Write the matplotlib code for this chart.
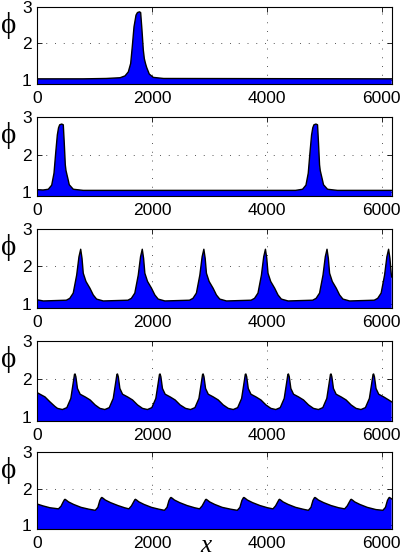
import matplotlib
matplotlib.use("Agg")
import matplotlib.pyplot as plt
import numpy as np

# ---------------- data ----------------
x_ticks = [0, 2000, 4000, 6000]
y_ticks = [1, 2, 3]
x_max = 6175

# panel 1: single spike
x1 = [0, 800, 1200, 1441, 1528, 1586, 1627, 1655, 1685, 1720, 1745, 1780, 1801,
      1824, 1847, 1865, 1885, 1906, 1951, 2021, 2200, 6175]
y1 = [1.03, 1.03, 1.04, 1.06, 1.11, 1.22, 1.45, 1.91, 2.45, 2.77, 2.84, 2.86, 2.84,
      2.36, 1.82, 1.58, 1.45, 1.34, 1.16, 1.07, 1.04, 1.03]

# panel 2: two spikes
x2 = [0, 100, 192, 251, 291, 320, 349, 370, 390, 425, 453, 470, 488, 500, 512, 535, 557,
      627, 800, 4500, 4622, 4681, 4721, 4750, 4779, 4800, 4820, 4855, 4883, 4900, 4918,
      4930, 4942, 4965, 4987, 5057, 5230, 6175]
y2 = [1.07, 1.06, 1.08, 1.19, 1.51, 2.04, 2.53, 2.72, 2.80, 2.82, 2.80, 2.31, 1.73, 1.58,
      1.50, 1.35, 1.20, 1.08, 1.05, 1.05, 1.08, 1.19, 1.51, 2.04, 2.53, 2.72, 2.80, 2.82,
      2.80, 2.31, 1.73, 1.58, 1.50, 1.35, 1.20, 1.08, 1.05, 1.05]

# panel 3: six peaks
x3 = [0, 106, 506, 566, 626, 686, 726, 756, 779, 801, 848, 917, 975, 1033, 1150,
      1579, 1639, 1699, 1759, 1799, 1829, 1852, 1874, 1921, 1990, 2048, 2106, 2223,
      2652, 2712, 2772, 2832, 2872, 2902, 2925, 2947, 2994, 3063, 3121, 3179, 3296,
      3725, 3785, 3845, 3905, 3945, 3975, 3998, 4020, 4067, 4136, 4194, 4252, 4369,
      4798, 4858, 4918, 4978, 5018, 5048, 5071, 5093, 5140, 5209, 5267, 5325, 5442,
      5871, 5931, 5991, 6051, 6091, 6121, 6144, 6166, 6175]
y3 = [1.11, 1.08, 1.10, 1.15, 1.29, 1.77, 2.26, 2.46, 2.22, 1.82, 1.60, 1.42, 1.24, 1.13, 1.08,
      1.10, 1.15, 1.29, 1.77, 2.26, 2.46, 2.22, 1.82, 1.60, 1.42, 1.24, 1.13, 1.08,
      1.10, 1.15, 1.29, 1.77, 2.26, 2.46, 2.22, 1.82, 1.60, 1.42, 1.24, 1.13, 1.08,
      1.10, 1.15, 1.29, 1.77, 2.26, 2.46, 2.22, 1.82, 1.60, 1.42, 1.24, 1.13, 1.08,
      1.10, 1.15, 1.29, 1.77, 2.26, 2.46, 2.22, 1.82, 1.60, 1.42, 1.24, 1.13, 1.08,
      1.10, 1.15, 1.29, 1.77, 2.26, 2.46, 2.22, 1.82, 1.72]

# panel 4: eight peaks
x4 = [0, 60, 134, 221, 308,
      352, 438, 515, 584, 620, 648, 658, 672, 700, 747, 834, 921, 1008,
      1091, 1177, 1254, 1323, 1359, 1387, 1397, 1411, 1439, 1486, 1573, 1660, 1747,
      1833, 1919, 1996, 2065, 2101, 2129, 2139, 2153, 2181, 2228, 2315, 2402, 2489,
      2584, 2670, 2747, 2816, 2852, 2880, 2890, 2904, 2932, 2979, 3066, 3153, 3240,
      3328, 3414, 3491, 3560, 3596, 3624, 3634, 3648, 3676, 3723, 3810, 3897, 3984,
      4070, 4156, 4233, 4302, 4338, 4366, 4376, 4390, 4418, 4465, 4552, 4639, 4726,
      4812, 4898, 4975, 5044, 5080, 5108, 5118, 5132, 5160, 5207, 5294, 5381, 5468,
      5554, 5640, 5717, 5786, 5822, 5850, 5860, 5874, 5902, 5949, 6036, 6123, 6175]
y4 = [1.64, 1.59, 1.53, 1.40, 1.28,
      1.23, 1.20, 1.25, 1.49, 1.84, 2.12, 2.13, 2.06, 1.75, 1.60, 1.53, 1.45, 1.32,
      1.23, 1.20, 1.25, 1.49, 1.84, 2.12, 2.13, 2.06, 1.75, 1.60, 1.53, 1.45, 1.32,
      1.23, 1.20, 1.25, 1.49, 1.84, 2.12, 2.13, 2.06, 1.75, 1.60, 1.53, 1.45, 1.32,
      1.23, 1.20, 1.25, 1.49, 1.84, 2.12, 2.13, 2.06, 1.75, 1.60, 1.53, 1.45, 1.32,
      1.23, 1.20, 1.25, 1.49, 1.84, 2.12, 2.13, 2.06, 1.75, 1.60, 1.53, 1.45, 1.32,
      1.23, 1.20, 1.25, 1.49, 1.84, 2.12, 2.13, 2.06, 1.75, 1.60, 1.53, 1.45, 1.32,
      1.23, 1.20, 1.25, 1.49, 1.84, 2.12, 2.13, 2.06, 1.75, 1.60, 1.53, 1.45, 1.32,
      1.23, 1.20, 1.25, 1.49, 1.84, 2.12, 2.13, 2.06, 1.75, 1.60, 1.53, 1.45, 1.40]

# panel 5: ten small peaks
x5 = [0, 100, 220, 368, 413, 448, 473, 483, 503, 543, 633, 763, 900, 1010,
      1055, 1090, 1115, 1125, 1145, 1185, 1275, 1405, 1520, 1595,
      1640, 1675, 1700, 1710, 1730, 1770, 1860, 1990, 2120, 2215,
      2260, 2295, 2320, 2330, 2350, 2390, 2480, 2610, 2740, 2827,
      2872, 2907, 2932, 2942, 2962, 3002, 3092, 3222, 3370, 3485,
      3530, 3565, 3590, 3600, 3620, 3660, 3750, 3880, 4010, 4106,
      4151, 4186, 4211, 4221, 4241, 4281, 4371, 4501, 4630, 4723,
      4768, 4803, 4828, 4838, 4858, 4898, 4988, 5118, 5250, 5355,
      5400, 5435, 5460, 5470, 5490, 5530, 5620, 5750, 5900, 6021,
      6066, 6101, 6126, 6136, 6156, 6175]
y5 = [1.58, 1.53, 1.48, 1.45, 1.52, 1.63, 1.70, 1.71, 1.69, 1.64, 1.57, 1.49, 1.44, 1.41,
      1.49, 1.68, 1.75, 1.76, 1.74, 1.69, 1.62, 1.54, 1.48, 1.45,
      1.53, 1.63, 1.70, 1.71, 1.69, 1.64, 1.57, 1.49, 1.44, 1.41,
      1.49, 1.68, 1.75, 1.76, 1.74, 1.69, 1.62, 1.54, 1.48, 1.45,
      1.53, 1.63, 1.70, 1.71, 1.69, 1.64, 1.57, 1.49, 1.44, 1.41,
      1.49, 1.68, 1.75, 1.76, 1.74, 1.69, 1.62, 1.54, 1.48, 1.45,
      1.53, 1.63, 1.70, 1.71, 1.69, 1.64, 1.57, 1.49, 1.44, 1.41,
      1.49, 1.68, 1.75, 1.76, 1.74, 1.69, 1.62, 1.54, 1.48, 1.45,
      1.53, 1.63, 1.70, 1.71, 1.69, 1.64, 1.57, 1.49, 1.43, 1.41,
      1.49, 1.68, 1.75, 1.76, 1.74, 1.72]

series = [(x1, y1), (x2, y2), (x3, y3), (x4, y4), (x5, y5)]

# ---------------- layout ----------------
W, H = 401, 558
fig = plt.figure(figsize=(W / 100, H / 100), dpi=100)
plt.rcParams['font.family'] = ['Liberation Sans', 'DejaVu Sans']

panel_px = [(6.7, 83.6), (117.3, 196.0), (229.0, 307.7), (340.7, 421.0), (452.0, 529.0)]
left_px, right_px = 37.3, 391.7

for (top, bot), (xs, ys) in zip(panel_px, series):
    ax = fig.add_axes([left_px / W, 1 - bot / H, (right_px - left_px) / W, (bot - top) / H])
    ax.fill_between(xs, ys, 0.0, facecolor=(0, 0, 1), edgecolor='none', zorder=2)
    ax.plot(xs, ys, color='k', lw=1.0, zorder=3)
    ax.set_xlim(0, x_max)
    ax.set_ylim(0.9, 3)
    ax.set_xticks(x_ticks)
    ax.set_yticks(y_ticks)
    ax.grid(True, color='k', alpha=0.75, lw=0.6, linestyle=(0, (1.2, 9.3)))
    ax.set_axisbelow(True)
    ax.tick_params(direction='in', length=3.5, width=0.6, top=True, right=True,
                   labelsize=12.5, pad=4)
    ax.tick_params(axis='x', pad=5)
    for s in ax.spines.values():
        s.set_linewidth(0.8)
        s.set_color('k')
    fig.text(9 / W, 1 - (top + 18.5) / H, '\u03d5', fontsize=21,
             family=['Liberation Serif', 'DejaVu Serif'], ha='center', va='center')

fig.text(206 / W, 1 - 552 / H, 'x', fontsize=18, style='italic',
         family=['Liberation Serif', 'DejaVu Serif'], ha='center', va='baseline')

fig.savefig('out.png', dpi=100)
